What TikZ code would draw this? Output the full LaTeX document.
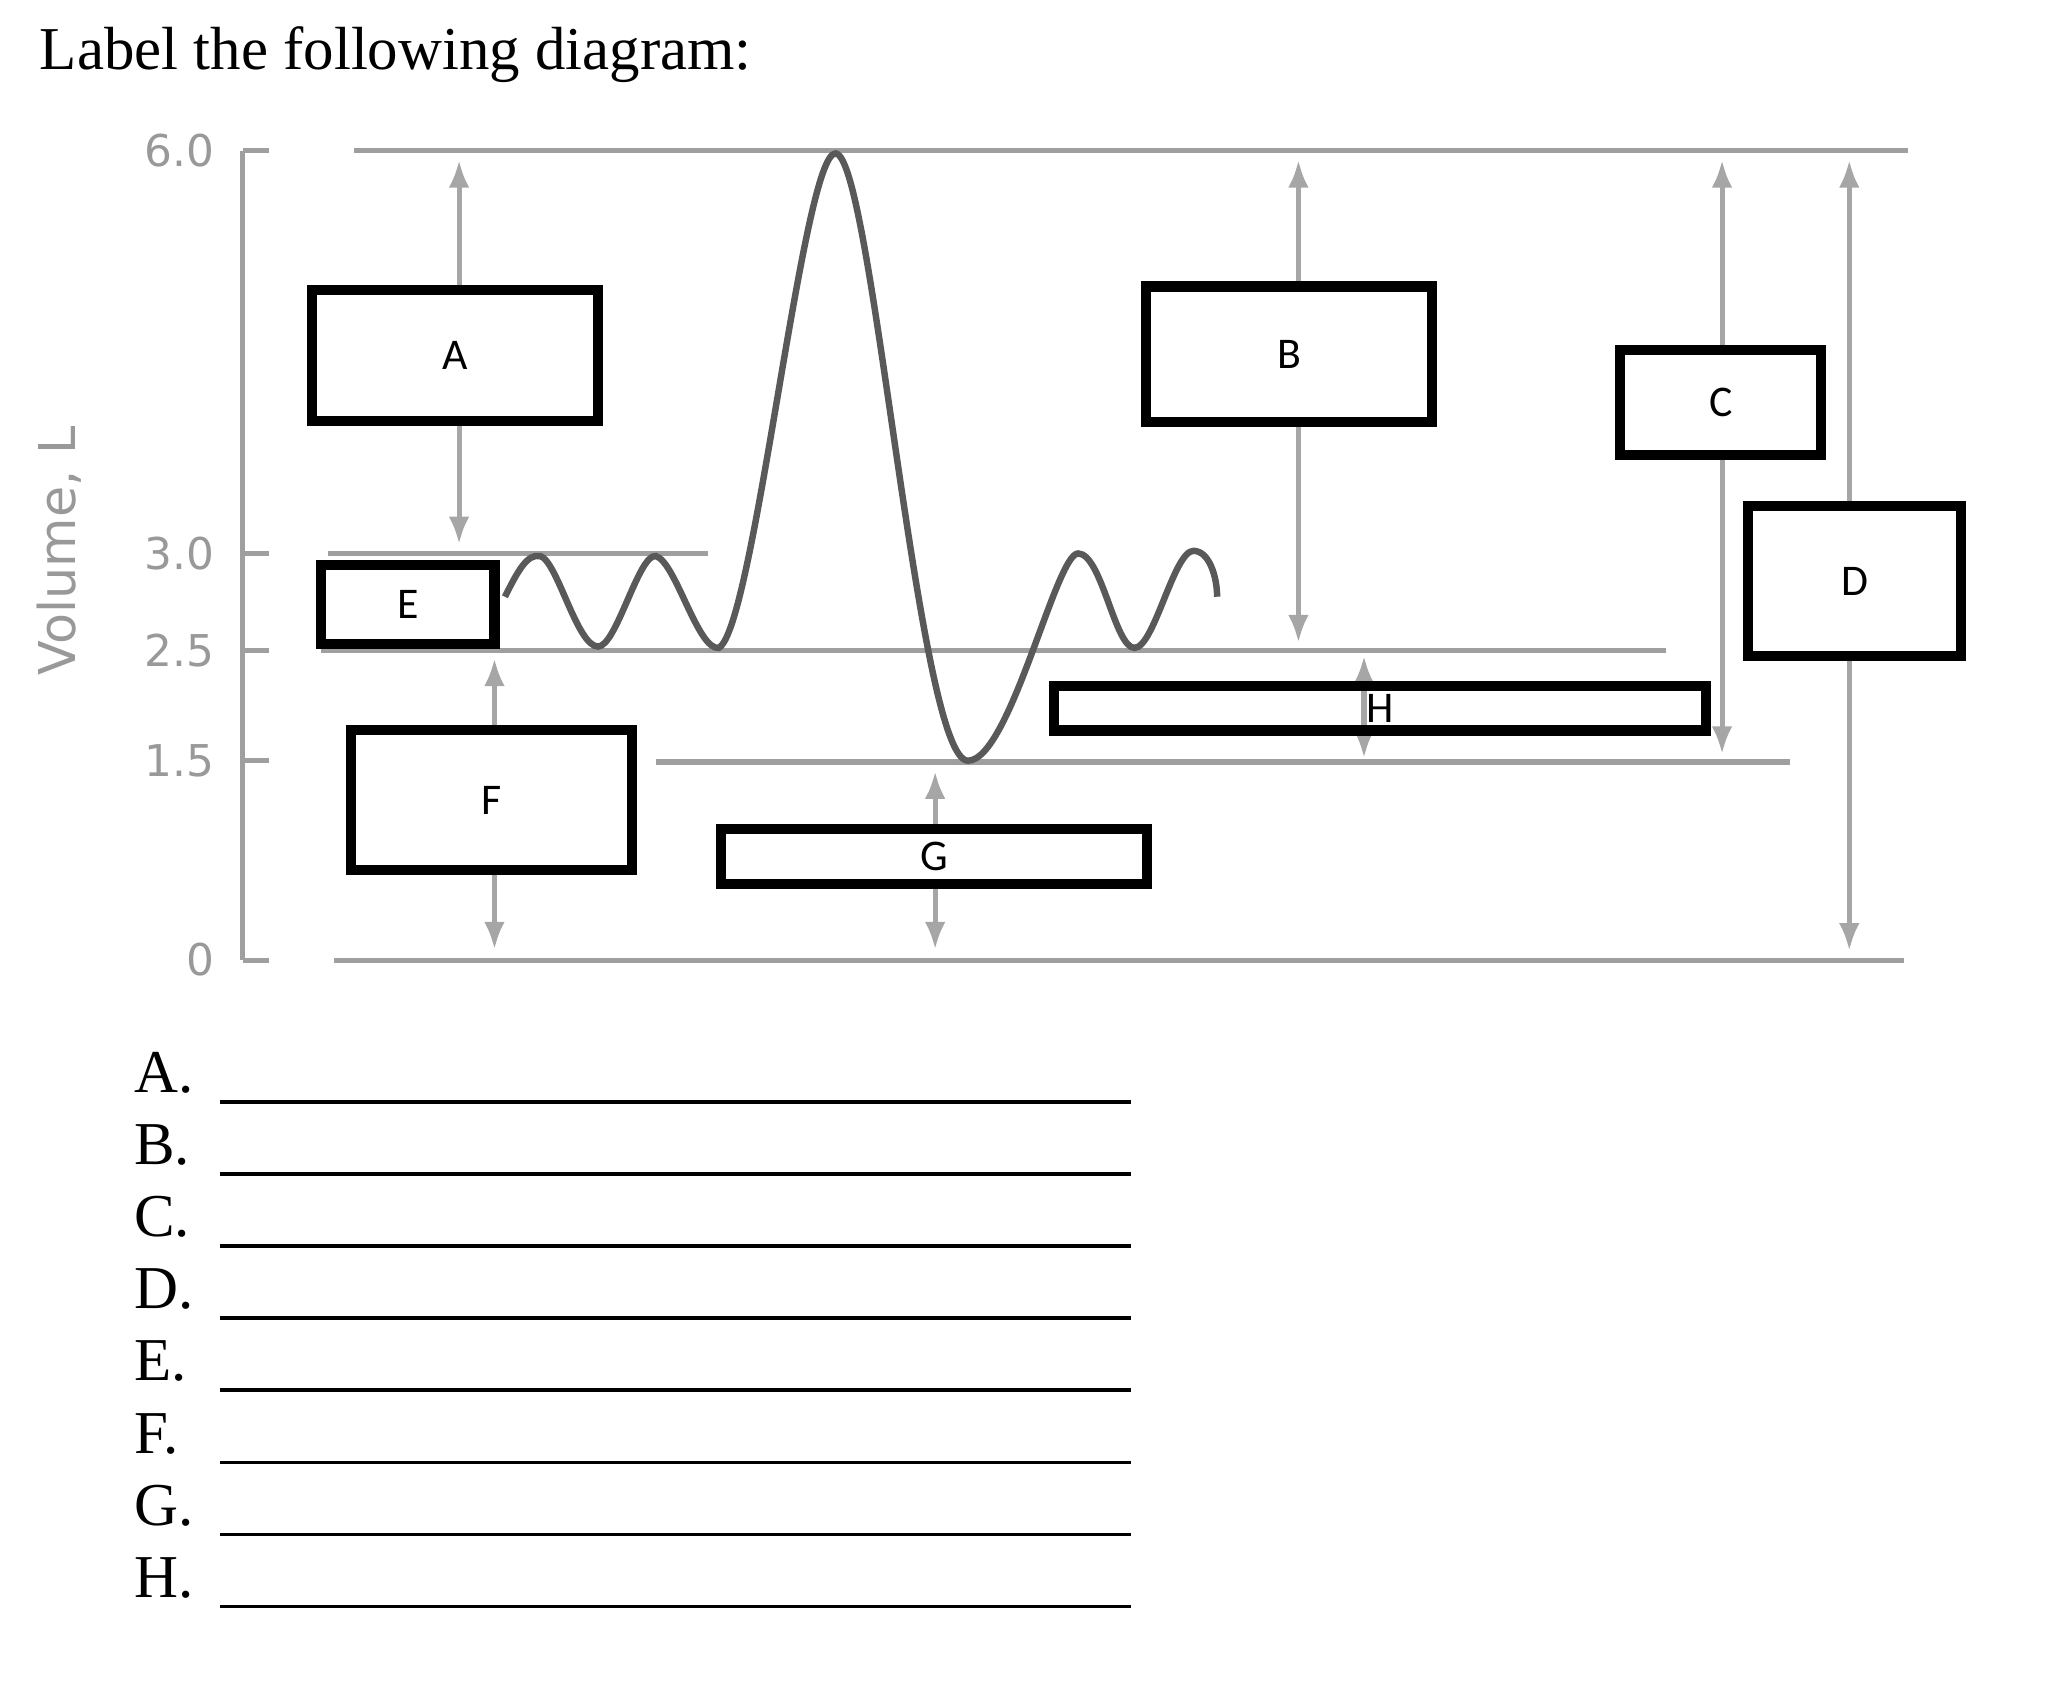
\documentclass[tikz,border=0pt]{standalone}
\usepackage{fontspec}
\setmainfont{Liberation Serif}
\newfontfamily\lab{Carlito}
\newfontfamily\axf{DejaVu Sans}
\usetikzlibrary{arrows.meta}
\begin{document}
\begin{tikzpicture}[x=0.01cm,y=-0.01cm,
  gl/.style={draw=gray!75,line width=1.1pt},
  dim/.style={draw=gray!70,line width=1.1pt,{Latex[length=6pt,width=4.5pt]}-{Latex[length=6pt,width=4.5pt]}},
  lbox/.style={draw=black,line width=2.2pt,fill=white,inner sep=0pt,font=\lab\fontsize{9.5}{11}\selectfont},
  tick/.style={font=\axf\fontsize{9.5}{11}\selectfont,text=gray!80,anchor=east}]
\useasboundingbox (0,0) rectangle (1560,1298);
\node[anchor=west,font=\fontsize{13.2}{16}\selectfont] (title) at (18,42) {Label the following diagram:};
% axis
\draw[gl] (185,115) -- (185,732);
\foreach \y/\t/\n in {115/6.0/a,422/3.0/b,496/2.5/c,580/1.5/d,732/0/e}{
  \draw[gl] (185,\y) -- (205,\y);
  \node[tick] (t\n) at (176,\y) {\t};}
\node[rotate=90,font=\axf\fontsize{11}{13}\selectfont,text=gray!80] (ylab) at (45,420) {Volume, L};
% level lines
\draw[gl] (270,115) -- (1455,115);
\draw[gl] (250,422) -- (540,422);
\draw[gl] (245,496) -- (1270,496);
\draw[gl] (500,581) -- (1365,581);
\draw[gl] (255,732) -- (1452,732);
% spirogram
\draw[gray!70!black,line width=1.4pt] (385,455) .. controls (395,435) and (402,422) .. (412,424)
 .. controls (425,428) and (440,493) .. (456,493)
 .. controls (470,493) and (487,422) .. (500,424)
 .. controls (515,428) and (532,496) .. (548,494)
 .. controls (575,480) and (612,117) .. (637,117)
 .. controls (665,117) and (700,580) .. (738,580)
 .. controls (770,580) and (805,422) .. (822,422)
 .. controls (840,422) and (850,494) .. (865,494)
 .. controls (880,494) and (895,420) .. (910,420)
 .. controls (922,420) and (928,440) .. (928,455);
% dimension arrows
\coordinate (a1) at (350,122); \coordinate (a2) at (350,415);
\coordinate (b1) at (990,122); \coordinate (b2) at (990,490);
\coordinate (c1) at (1313,122); \coordinate (c2) at (1313,575);
\coordinate (d1) at (1410,122); \coordinate (d2) at (1410,725);
\coordinate (f1) at (377,502); \coordinate (f2) at (377,724);
\coordinate (g1) at (713,588); \coordinate (g2) at (713,724);
\coordinate (h1) at (1040,500); \coordinate (h2) at (1040,578);
\foreach \k in {a,b,c,d,f,g,h}{\draw[dim] (\k1) -- (\k2);}
% boxes
\node[lbox,minimum width=2.18cm,minimum height=1.0cm] (A) at (347,271) {A};
\node[lbox,minimum width=2.18cm,minimum height=1.03cm] (B) at (983,270) {B};
\node[lbox,minimum width=1.53cm,minimum height=0.8cm] (C) at (1312,307) {C};
\node[lbox,minimum width=1.62cm,minimum height=1.14cm] (D) at (1414,443) {D};
\node[lbox,minimum width=1.32cm,minimum height=0.6cm] (E) at (311,461) {E};
\node[lbox,minimum width=2.14cm,minimum height=1.07cm] (F) at (375,610) {F};
\node[lbox,minimum width=3.25cm,minimum height=0.42cm] (G) at (712,653) {G};
\node[lbox,minimum width=4.97cm,minimum height=0.34cm,fill=none] (H) at (1052,540) {H};
% answer list
\foreach \l [count=\i from 0] in {A,B,C,D,E,F,G,H}{
  \node[anchor=west,font=\fontsize{13.2}{16}\selectfont] (q\l) at (90,818+55*\i) {\l.};
  \draw[line width=0.8pt] (168,840+55*\i) -- (862,840+55*\i);}
\end{tikzpicture}
\end{document}
